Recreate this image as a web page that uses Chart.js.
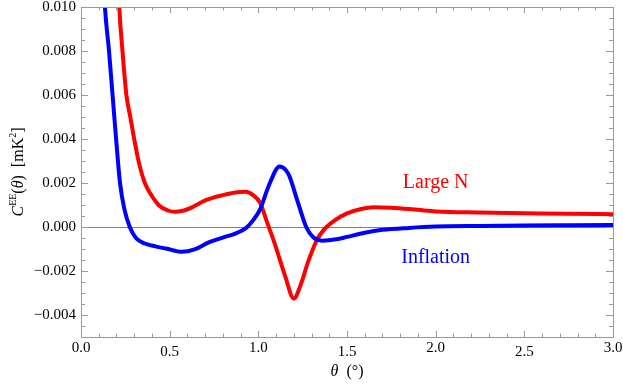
<!DOCTYPE html>
<html>
<head>
<meta charset="utf-8">
<script src="https://cdn.jsdelivr.net/npm/chart.js@4"></script>
<style>
  body { margin: 0; background: #fff; }
  canvas { display: block; }
</style>
</head>
<body>
<canvas id="chart" width="623" height="386"></canvas>
<script>
// Datos
const inflationTheta = [0.12, 0.135, 0.158, 0.178, 0.198, 0.22, 0.245, 0.275, 0.31, 0.36, 0.42, 0.48, 0.57, 0.64, 0.72, 0.80, 0.87, 0.93, 0.97, 1.01, 1.06, 1.12, 1.17, 1.22, 1.27, 1.31, 1.36, 1.44, 1.5, 1.6, 1.7, 1.85, 2.0, 2.25, 2.5, 2.75, 3.0];
const inflationValues = [0.0125, 0.0100, 0.0080, 0.0060, 0.0040, 0.0020, 0.0008, 0.0, -0.0005, -0.00075, -0.00088, -0.00098, -0.00113, -0.00102, -0.0007, -0.00048, -0.0003, -0.00005, 0.0003, 0.0008, 0.0019, 0.00275, 0.0024, 0.0012, 0.0, -0.00047, -0.00062, -0.00056, -0.00045, -0.00026, -0.00013, -0.00004, 0.00002, 0.00005, 0.00007, 0.00008, 0.00009];

const largeNTheta = [0.205, 0.216, 0.234, 0.256, 0.278, 0.30, 0.33, 0.36, 0.39, 0.44, 0.49, 0.53, 0.58, 0.62, 0.71, 0.80, 0.87, 0.93, 0.97, 1.01, 1.05, 1.09, 1.15, 1.2, 1.24, 1.28, 1.33, 1.37, 1.43, 1.5, 1.58, 1.65, 1.75, 1.9, 2.0, 2.25, 2.5, 2.75, 3.0];
const largeNValues = [0.0125, 0.0100, 0.0080, 0.0060, 0.0050, 0.0040, 0.0028, 0.0020, 0.00153, 0.00098, 0.00075, 0.00069, 0.00075, 0.00087, 0.00124, 0.00145, 0.00157, 0.0016, 0.00145, 0.0011, 0.0002, -0.0007, -0.0022, -0.00325, -0.0026, -0.0016, -0.0006, -0.00012, 0.0003, 0.00062, 0.00082, 0.0009, 0.00088, 0.00078, 0.00071, 0.00066, 0.00063, 0.0006, 0.00058];

const xTicks = [0, 0.5, 1.0, 1.5, 2.0, 2.5, 3.0];
const xTickLabels = ['0.0', '0.5', '1.0', '1.5', '2.0', '2.5', '3.0'];
const yTicks = [-0.004, -0.002, 0, 0.002, 0.004, 0.006, 0.008, 0.010];
const yTickLabels = ['\u22120.004', '\u22120.002', '0.000', '0.002', '0.004', '0.006', '0.008', '0.010'];

const serif = "'Liberation Serif', 'DejaVu Serif', serif";
const frameColor = '#9a9a9a';

function toPoints(xs, ys) {
  return xs.map((x, i) => ({ x: x, y: ys[i] }));
}

// Marco con marcas hacia dentro, etiquetas del eje x y textos
const framePlugin = {
  id: 'frame',
  afterDraw(chart) {
    const ctx = chart.ctx;
    const a = chart.chartArea;
    const xs = chart.scales.x;
    const ys = chart.scales.y;
    ctx.save();
    ctx.strokeStyle = frameColor;
    ctx.lineWidth = 1;
    ctx.strokeRect(Math.round(a.left) + 0.5, Math.round(a.top) + 0.5, Math.round(a.right - a.left), Math.round(a.bottom - a.top));

    ctx.beginPath();
    for (let i = 0; i <= 30; i++) {
      const v = i * 0.1;
      const px = Math.round(xs.getPixelForValue(v)) + 0.5;
      const len = (i % 5 === 0) ? 6 : 3.5;
      ctx.moveTo(px, a.bottom); ctx.lineTo(px, a.bottom - len);
      ctx.moveTo(px, a.top); ctx.lineTo(px, a.top + len);
    }
    for (let i = 0; i <= 30; i++) {
      const v = -0.005 + i * 0.0005;
      const py = Math.round(ys.getPixelForValue(v)) + 0.5;
      const major = (i - 2) % 4 === 0 && i >= 2;
      const len = major ? 7 : 4;
      ctx.moveTo(a.left, py); ctx.lineTo(a.left + len, py);
      ctx.moveTo(a.right, py); ctx.lineTo(a.right - len, py);
    }
    ctx.stroke();

    // etiquetas del eje x (alternadas como en el original)
    ctx.fillStyle = '#000';
    ctx.font = '15px ' + serif;
    ctx.textAlign = 'center';
    ctx.textBaseline = 'middle';
    xTicks.forEach((v, i) => {
      ctx.fillText(xTickLabels[i], xs.getPixelForValue(v), i % 2 === 0 ? 348 : 352);
    });

    // título del eje x
    const cx = (a.left + a.right) / 2;
    ctx.font = 'italic 16px ' + serif;
    const wTheta = ctx.measureText('\u03b8').width;
    ctx.font = '16px ' + serif;
    const wRest = ctx.measureText('  (\u00b0)').width;
    let x0 = cx - (wTheta + wRest) / 2;
    ctx.textAlign = 'left';
    ctx.font = 'italic 16px ' + serif;
    ctx.fillText('\u03b8', x0, 372);
    ctx.font = '16px ' + serif;
    ctx.fillText('  (\u00b0)', x0 + wTheta, 372);

    // título del eje y
    const parts = [
      { t: 'C', f: 'italic 16px ', dy: 0 },
      { t: 'EE', f: '10px ', dy: -6 },
      { t: '(', f: '16px ', dy: 0 },
      { t: '\u03b8', f: 'italic 16px ', dy: 0 },
      { t: ')  [mK', f: '16px ', dy: 0 },
      { t: '2', f: '10px ', dy: -6 },
      { t: ']', f: '16px ', dy: 0 }
    ];
    let total = 0;
    parts.forEach(p => { ctx.font = p.f + serif; p.w = ctx.measureText(p.t).width; total += p.w; });
    ctx.save();
    ctx.translate(19, (a.top + a.bottom) / 2);
    ctx.rotate(-Math.PI / 2);
    let xx = -total / 2;
    parts.forEach(p => {
      ctx.font = p.f + serif;
      ctx.fillText(p.t, xx, p.dy);
      xx += p.w;
    });
    ctx.restore();

    // textos de las curvas
    ctx.font = '20px ' + serif;
    ctx.textAlign = 'center';
    ctx.fillStyle = '#ff0000';
    ctx.fillText('Large N', xs.getPixelForValue(2.0), ys.getPixelForValue(0.00201));
    ctx.fillStyle = '#0000ff';
    ctx.fillText('Inflation', xs.getPixelForValue(2.0), ys.getPixelForValue(-0.00141));
    ctx.restore();
  }
};

const chart = new Chart(document.getElementById('chart').getContext('2d'), {
  type: 'line',
  data: {
    datasets: [
      {
        label: 'Inflation',
        data: toPoints(inflationTheta, inflationValues),
        borderColor: '#0000ff',
        borderWidth: 4,
        pointRadius: 0,
        cubicInterpolationMode: 'monotone',
        clip: 0
      },
      {
        label: 'Large N',
        data: toPoints(largeNTheta, largeNValues),
        borderColor: '#ff0000',
        borderWidth: 4,
        pointRadius: 0,
        cubicInterpolationMode: 'monotone',
        clip: 0
      }
    ]
  },
  options: {
    responsive: false,
    animation: false,
    layout: { padding: { top: 7, right: 10, left: 0, bottom: 0 } },
    plugins: {
      legend: { display: false },
      tooltip: { enabled: false }
    },
    scales: {
      x: {
        type: 'linear',
        min: 0,
        max: 3,
        grid: { display: false },
        border: { display: false },
        ticks: { display: false },
        afterFit(scale) {
          scale.height = 49;
          scale.paddingLeft = 0;
          scale.paddingRight = 0;
        }
      },
      y: {
        type: 'linear',
        min: -0.005,
        max: 0.010,
        afterBuildTicks(scale) { scale.ticks = yTicks.map(v => ({ value: v })); },
        grid: {
          drawTicks: false,
          color: c => (c.tick && c.tick.value === 0) ? '#808080' : 'rgba(0,0,0,0)',
          lineWidth: 1
        },
        border: { display: false },
        ticks: {
          padding: 5,
          color: '#000',
          font: { family: serif, size: 15 },
          callback: (v) => {
            const i = yTicks.indexOf(v);
            return i >= 0 ? yTickLabels[i] : '';
          }
        },
        afterFit(scale) {
          scale.width = 81;
          scale.paddingTop = 0;
          scale.paddingBottom = 0;
        }
      }
    }
  },
  plugins: [framePlugin]
});
</script>
</body>
</html>
